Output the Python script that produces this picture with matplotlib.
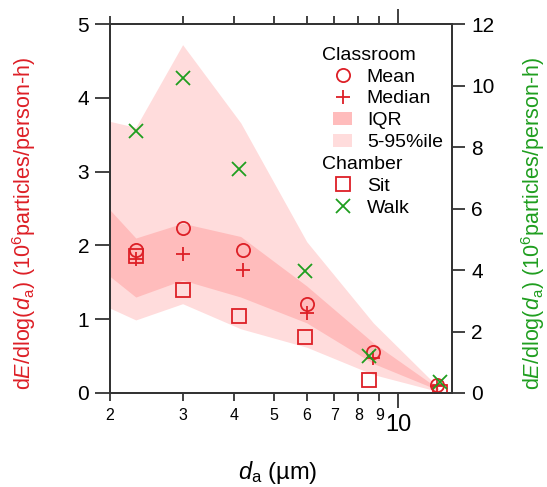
import matplotlib
matplotlib.use('Agg')
import matplotlib.pyplot as plt
from matplotlib.ticker import FixedLocator, FixedFormatter
from matplotlib.lines import Line2D
from matplotlib.patches import Patch

plt.rcParams['font.family'] = ['Liberation Sans', 'DejaVu Sans']
plt.rcParams['mathtext.fontset'] = 'custom'
plt.rcParams['mathtext.rm'] = 'Liberation Sans'
plt.rcParams['mathtext.it'] = 'Liberation Sans:italic'
plt.rcParams['mathtext.bf'] = 'Liberation Sans:bold'

# ---- data ----
band_da = [2.0, 2.31, 3.0, 4.15, 6.0, 8.7, 12.5]
p95 = [3.68, 3.60, 4.72, 3.66, 2.05, 0.95, 0.08]
p75 = [2.48, 2.10, 2.30, 2.12, 1.45, 0.68, 0.06]
p25 = [1.58, 1.30, 1.53, 1.30, 0.95, 0.40, 0.04]
p05 = [1.15, 0.99, 1.21, 0.87, 0.62, 0.25, 0.02]

class_da = [2.31, 3.0, 4.2, 6.0, 8.7, 12.4]
mean_vals = [1.94, 2.24, 1.94, 1.20, 0.55, 0.11]
median_vals = [1.81, 1.89, 1.66, 1.09, 0.47, 0.09]

chamber_da = [2.31, 3.0, 4.11, 5.93, 8.47, 12.6]
sit_vals = [1.85, 1.39, 1.04, 0.76, 0.17, 0.02]
walk_vals = [8.53, 10.25, 7.30, 3.96, 1.19, 0.35]

minor_ticks = [2, 3, 4, 5, 6, 7, 8, 9]
minor_labels = ['2', '3', '4', '5', '6', '7', '8', '9']
major_ticks = [10]
major_labels = ['10']
left_ticks = [0, 1, 2, 3, 4, 5]
right_ticks = [0, 2, 4, 6, 8, 10, 12]

RED = '#dd1f26'
GREEN = '#1f9e1f'
LIGHT = '#ffdcdc'
IQRC = '#ffbcbc'
SPINE = '#333333'

fig = plt.figure(figsize=(5.47, 4.87), dpi=100)
ax = fig.add_axes([110 / 547, 1 - 393 / 487, 342 / 547, 369 / 487])

ax.fill_between(band_da, p05, p95, color=LIGHT, lw=0, zorder=1)
ax.fill_between(band_da, p25, p75, color=IQRC, lw=0, zorder=2)

mk = dict(ls='none', ms=9.5, mew=1.3, zorder=4)
ax.plot(class_da, mean_vals, marker='o', mfc='none', mec=RED, **mk)
ax.plot(class_da, median_vals, marker='+', color=RED, **mk)
ax.plot(chamber_da, sit_vals, marker='s', mfc='none', mec=RED, **mk)

ax.set_xscale('log')
ax.set_xlim(2, 13.5)
ax.set_ylim(0, 5)
ax.xaxis.set_major_locator(FixedLocator(major_ticks))
ax.xaxis.set_major_formatter(FixedFormatter(major_labels))
ax.xaxis.set_minor_locator(FixedLocator(minor_ticks))
ax.xaxis.set_minor_formatter(FixedFormatter(minor_labels))
ax.set_yticks(left_ticks)

for s in ax.spines.values():
    s.set_color(SPINE)
    s.set_linewidth(1.3)

ax.tick_params(axis='y', which='major', direction='out', length=10.5, width=1.3,
               color=SPINE, labelsize=15, pad=4.5)
ax.tick_params(axis='x', which='minor', direction='out', length=5.5, width=1.3,
               color=SPINE, labelsize=11.5, pad=5, top=True)
ax.tick_params(axis='x', which='major', direction='out', length=11, width=1.3,
               color=SPINE, labelsize=17, pad=4, top=True)

ax.set_xlabel(r'$\it{d}_\mathrm{a}$ (µm)', fontsize=17)
ax.xaxis.set_label_coords(0.49, -0.18)
ylab = r'd$\it{E}$/dlog($\it{d}_\mathrm{a}$) (10$^{6}$particles/person-h)'
ax.set_ylabel(ylab, fontsize=15.5, color=RED)
ax.yaxis.set_label_coords(-0.21, 0.46)

ax2 = ax.twinx()
ax2.plot(chamber_da, walk_vals, marker='x', color=GREEN, **mk)
ax2.set_ylim(0, 12)
ax2.set_yticks(right_ticks)
for s in ax2.spines.values():
    s.set_color(SPINE)
    s.set_linewidth(1.3)
ax2.tick_params(axis='y', direction='out', length=9, width=1.3, color=SPINE,
                labelsize=15, pad=5)
ax2.set_ylabel(ylab, fontsize=15.5, color=GREEN)
ax2.yaxis.set_label_coords(1.195, 0.46)

blank = Line2D([], [], ls='none')
handles = [
    blank,
    Line2D([], [], ls='none', marker='o', mfc='none', mec=RED, ms=9.5, mew=1.3),
    Line2D([], [], ls='none', marker='+', color=RED, ms=9.5, mew=1.3),
    Patch(facecolor=IQRC, edgecolor='none'),
    Patch(facecolor=LIGHT, edgecolor='none'),
    blank,
    Line2D([], [], ls='none', marker='s', mfc='none', mec=RED, ms=9.5, mew=1.3),
    Line2D([], [], ls='none', marker='x', color=GREEN, ms=9.5, mew=1.3),
]
labels = ['Classroom', 'Mean', 'Median', 'IQR', '5-95%ile', 'Chamber', 'Sit', 'Walk']
leg = ax2.legend(handles, labels, loc='upper left',
                 bbox_to_anchor=(333 / 547, 1 - 46 / 487),
                 bbox_transform=fig.transFigure, frameon=False, fontsize=14,
                 handlelength=1.0, handletextpad=0.74, labelspacing=0.22,
                 borderpad=0, borderaxespad=0)
for col in leg._legend_handle_box.get_children():
    rows = col.get_children()
    for i in (0, 5):
        rows[i].get_children()[0].set_width(-18.4)

fig.savefig('out.png', dpi=100)
